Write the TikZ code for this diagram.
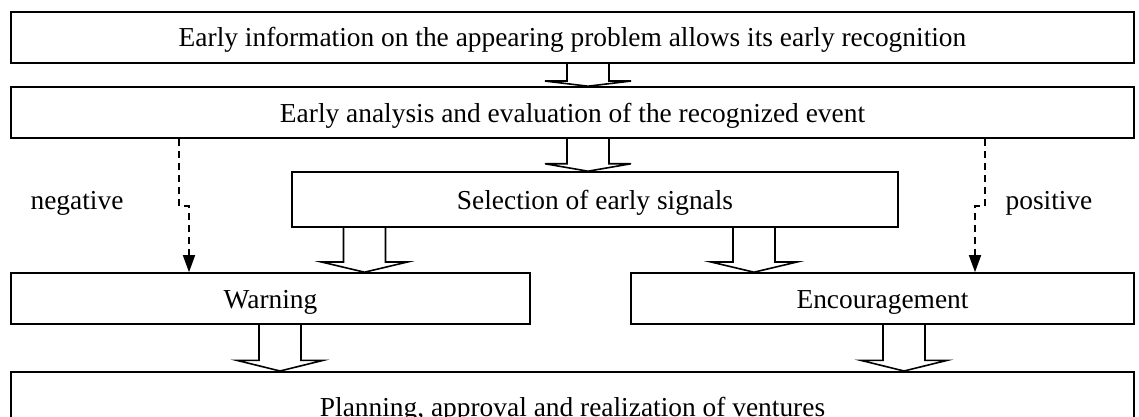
\documentclass[tikz,border=0pt]{standalone}
\usepackage{fontspec}
\setmainfont{Liberation Serif}
\usetikzlibrary{arrows.meta, calc, positioning}

% hollow block arrow: from node, to node, x position of its axis
\newcommand{\hollowarrow}[3]{%
  \draw[hollow] let \p1=(#1.south), \p2=(#2.north), \p3=(#3,0), \n1={0.23*(\y1-\y2)} in
    (\x3-10.5pt,\y1) -- (\x3-10.5pt,\y2+\n1) -- (\x3-21.5pt,\y2+\n1) -- (\x3,\y2)
    -- (\x3+21.5pt,\y2+\n1) -- (\x3+10.5pt,\y2+\n1) -- (\x3+10.5pt,\y1);}

\begin{document}
\begin{tikzpicture}[x=0.5pt, y=-0.5pt,
    box/.style={draw, line width=0.8pt, minimum height=25.5pt, inner sep=0pt,
      text height=9.5pt, text depth=0pt, font=\fontsize{13.7pt}{16pt}\selectfont},
    hollow/.style={line width=0.8pt, line join=miter},
    dashconn/.style={line width=0.8pt, dash pattern=on 3.5pt off 2.5pt,
      -{Triangle[length=8.5pt, width=6pt]}},
    lbl/.style={text height=9.5pt, text depth=0pt, font=\fontsize{13.7pt}{16pt}\selectfont}]
    \useasboundingbox (0,0) rectangle (1139,417);
    \clip (0,0) rectangle (1139,417);

    % Recognition and analysis
    \node[box, minimum width=561.5pt] (early) at (572.5,37.5) {Early information on the appearing problem allows its early recognition};
    \node[box, minimum width=561.5pt] (analysis) at (572.5,112.5) {Early analysis and evaluation of the recognized event};
    \node[box, minimum width=303pt, minimum height=27.5pt] (select) at (595,199.5) {Selection of early signals};

    % Reactions
    \node[box, minimum width=259.5pt] (warn) at (270.5,298.5) {Warning};
    \node[box, minimum width=251.5pt] (encour) at (882.5,298.5) {Encouragement};

    % Ventures (cut off at the bottom)
    \node[box, minimum width=561.5pt, anchor=north, text height=8pt, text depth=30pt, inner ysep=14.5pt] (plan) at (572.5,371) {Planning, approval and realization of ventures};

    % Evaluation labels
    \node[lbl] (neg) at (77,200) {negative};
    \node[lbl] (pos) at (1049,200) {positive};

    % Block arrows
    \hollowarrow{early}{analysis}{588}
    \hollowarrow{analysis}{select}{588}
    \hollowarrow{select}{warn}{364.5}
    \hollowarrow{select}{encour}{754}
    \hollowarrow{warn}{plan}{280}
    \hollowarrow{encour}{plan}{904}

    % Dashed branches
    \draw[dashconn] (analysis.south -| 179,0) -- (179,206) -- (189,206) -- (warn.north -| 189,0);
    \draw[dashconn] (analysis.south -| 985,0) -- (985,206) -- (975,206) -- (encour.north -| 975,0);
\end{tikzpicture}
\end{document}
